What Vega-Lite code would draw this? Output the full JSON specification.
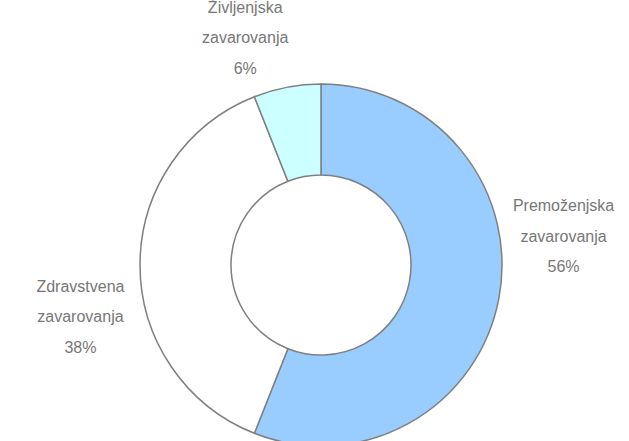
{
  "$schema": "https://vega.github.io/schema/vega-lite/v6.json",
  "autosize": "none",
  "width": 616,
  "height": 352,
  "padding": {"left": 13, "top": 89, "right": 0, "bottom": 0},
  "background": "white",
  "config": {"view": {"stroke": null}},
  "data": {
    "values": [
      {"category": "Premoženjska", "value": 56},
      {"category": "Zdravstvena", "value": 38},
      {"category": "Življenjska", "value": 6}
    ]
  },
  "resolve": {"scale": {"theta": "independent"}},
  "layer": [
    {
      "mark": {"type": "arc", "outerRadius": 181, "innerRadius": 90, "stroke": "#7f7f7f", "strokeWidth": 1.5},
      "encoding": {
        "theta": {"field": "value", "type": "quantitative", "stack": true},
        "color": {
          "field": "category",
          "type": "nominal",
          "scale": {"domain": ["Premoženjska", "Zdravstvena", "Življenjska"], "range": ["#99CCFF", "#FFFFFF", "#CCFFFF"]},
          "legend": null
        }
      }
    },
    {
      "transform": [
        {"calculate": "[datum.category, 'zavarovanja', datum.value + '%']", "as": "label"}
      ],
      "mark": {"type": "text", "radius": 245, "dy": -24.5, "font": "Liberation Sans", "fontSize": 16, "lineHeight": 30.5, "fill": "#777777", "align": "center", "baseline": "middle"},
      "encoding": {
        "theta": {"field": "value", "type": "quantitative", "stack": true, "scale": {"range": [-0.412, 6.166]}},
        "detail": {"field": "category", "type": "nominal"},
        "text": {"field": "label"}
      }
    }
  ]
}
